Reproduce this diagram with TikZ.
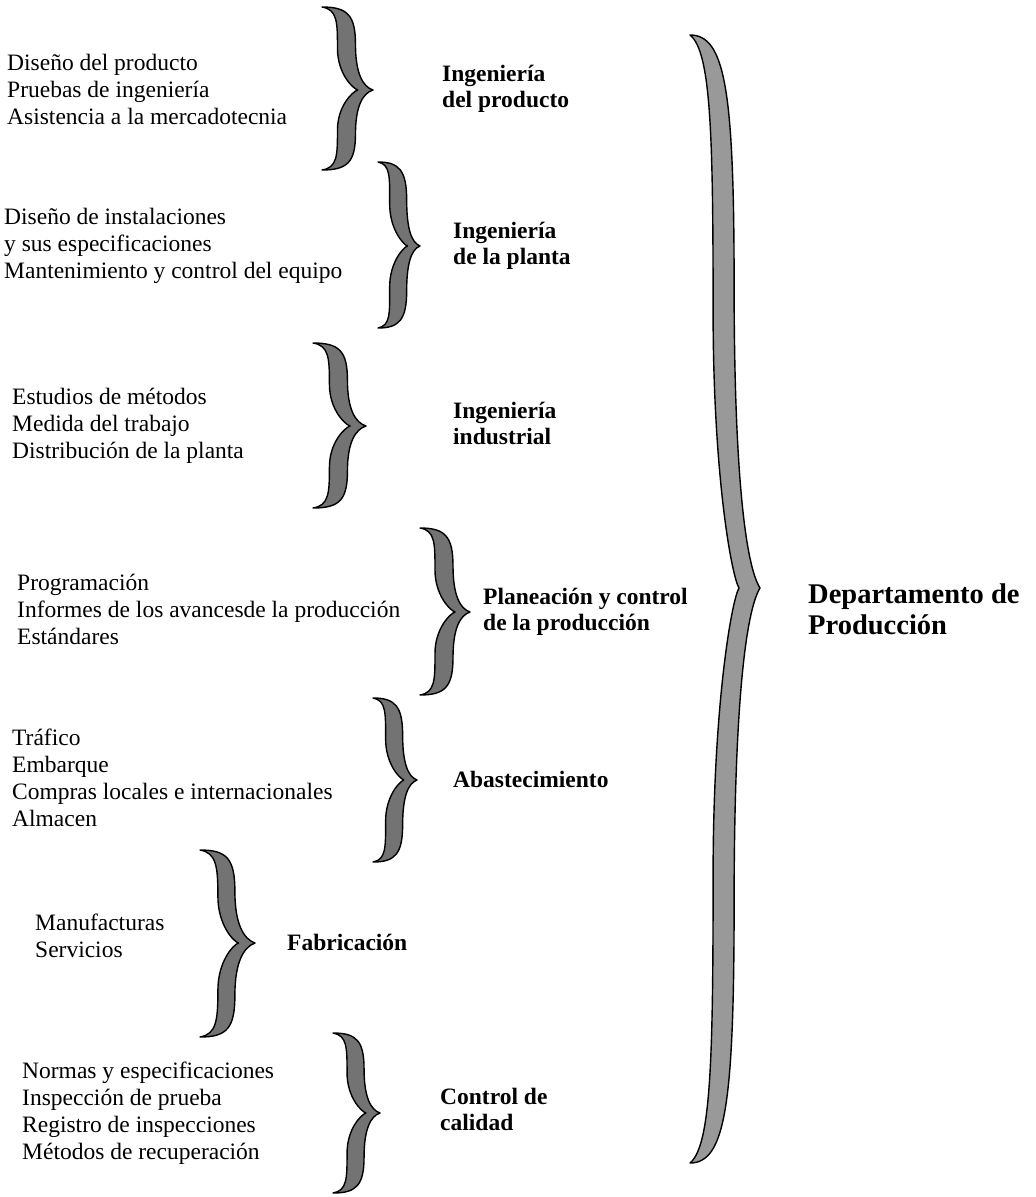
\documentclass[tikz,border=0pt]{standalone}
\usepackage{fontspec}
\setmainfont{Liberation Serif}

% Curly brace drawn as a filled outline.
% #1 extra style, #2 x of the ends, #3 top y, #4 x of the tip, #5 tip y, #6 bottom y, #7 thickness
\newcommand\curlybr[7][]{%
  \pgfmathsetmacro\brD{#4-#2}%
  \pgfmathsetmacro\brXm{#2+0.48*\brD}%
  \pgfmathsetmacro\brR{\brXm+#7/2}%
  \pgfmathsetmacro\brL{\brXm-#7/2}%
  \pgfmathsetmacro\brHa{#5-#3}%
  \pgfmathsetmacro\brHb{#6-#5}%
  \pgfmathsetmacro\brNk{#4-0.3*\brD}%
  \filldraw[bracebody,#1]
    (#2,#3) .. controls ({#2+0.5*\brD},#3) and (\brR,{#3+0.1*\brHa}) .. (\brR,{#3+0.45*\brHa})
    .. controls (\brR,{#3+0.8*\brHa}) and ({#4-0.2*\brD},{#5-0.04*\brHa}) .. (#4,#5)
    .. controls ({#4-0.2*\brD},{#5+0.04*\brHb}) and (\brR,{#5+0.2*\brHb}) .. (\brR,{#5+0.55*\brHb})
    .. controls (\brR,{#5+0.9*\brHb}) and ({#2+0.5*\brD},#6) .. (#2,#6)
    .. controls ({#2+0.3*\brD},{#6-0.03*\brHb}) and (\brL,{#5+0.82*\brHb}) .. (\brL,{#5+0.5*\brHb})
    .. controls (\brL,{#5+0.2*\brHb}) and ({\brNk-0.1*\brD},{#5+0.02*\brHb}) .. (\brNk,#5)
    .. controls ({\brNk-0.1*\brD},{#5-0.02*\brHa}) and (\brL,{#3+0.8*\brHa}) .. (\brL,{#3+0.5*\brHa})
    .. controls (\brL,{#3+0.18*\brHa}) and ({#2+0.3*\brD},{#3+0.03*\brHa}) .. (#2,#3) -- cycle;
}

\tikzset{
  bracebody/.style={fill=black!55, draw=black, line width=1.4pt, line join=round},
  bigbrace/.style={fill=black!40},
  item/.style={anchor=base west, inner sep=0pt, font=\fontsize{23.5}{27}\selectfont},
  head/.style={anchor=base west, inner sep=0pt, font=\fontsize{23.5}{27}\selectfont\bfseries},
  dept/.style={anchor=base west, inner sep=0pt, font=\fontsize{28.5}{32}\selectfont\bfseries},
}

\begin{document}
\begin{tikzpicture}[x=1pt, y=-1pt]
\useasboundingbox (0,0) rectangle (1036,1197);

% Ingeniería del producto
\node[item] (g1a) at (7,70)  {Diseño del producto};
\node[item] (g1b) at (7,97)  {Pruebas de ingeniería};
\node[item] (g1c) at (7,124) {Asistencia a la mercadotecnia};
\curlybr{322}{7}{373}{90}{170}{18}
\node[head] (h1a) at (442,81)  {Ingeniería};
\node[head] (h1b) at (442,107) {del producto};

% Ingeniería de la planta
\node[item] (g2a) at (4,224) {Diseño de instalaciones};
\node[item] (g2b) at (4,251) {y sus especificaciones};
\node[item] (g2c) at (4,278) {Mantenimiento y control del equipo};
\curlybr{378}{162}{420}{246}{328}{17}
\node[head] (h2a) at (453,238) {Ingeniería};
\node[head] (h2b) at (453,264) {de la planta};

% Ingeniería industrial
\node[item] (g3a) at (12,404) {Estudios de métodos};
\node[item] (g3b) at (12,431) {Medida del trabajo};
\node[item] (g3c) at (12,458) {Distribución de la planta};
\curlybr{313}{343}{366}{426}{508}{18}
\node[head] (h3a) at (453,418) {Ingeniería};
\node[head] (h3b) at (453,444) {industrial};

% Planeación y control de la producción
\node[item] (g4a) at (17,590) {Programación};
\node[item] (g4b) at (17,617) {Informes de los avancesde la producción};
\node[item] (g4c) at (17,644) {Estándares};
\curlybr{420}{528}{470}{612}{695}{18}
\node[head] (h4a) at (483,604) {Planeación y control};
\node[head] (h4b) at (483,630) {de la producción};

% Abastecimiento
\node[item] (g5a) at (12,745) {Tráfico};
\node[item] (g5b) at (12,772) {Embarque};
\node[item] (g5c) at (12,799) {Compras locales e internacionales};
\node[item] (g5d) at (12,826) {Almacen};
\curlybr{373}{698}{417}{780}{862}{17}
\node[head] (h5a) at (453,787) {Abastecimiento};

% Fabricación
\node[item] (g6a) at (35,930) {Manufacturas};
\node[item] (g6b) at (35,957) {Servicios};
\curlybr{200}{850}{255}{943}{1037}{17}
\node[head] (h6a) at (287,950) {Fabricación};

% Control de calidad
\node[item] (g7a) at (22,1078) {Normas y especificaciones};
\node[item] (g7b) at (22,1105) {Inspección de prueba};
\node[item] (g7c) at (22,1132) {Registro de inspecciones};
\node[item] (g7d) at (22,1159) {Métodos de recuperación};
\curlybr{333}{1033}{380}{1113}{1193}{17}
\node[head] (h7a) at (440,1104) {Control de};
\node[head] (h7b) at (440,1130) {calidad};

% Departamento de Producción
\curlybr[bigbrace]{690}{35}{760}{588}{1163}{21}
\node[dept] (dpa) at (808,603) {Departamento de};
\node[dept] (dpb) at (808,634) {Producción};
\end{tikzpicture}
\end{document}
